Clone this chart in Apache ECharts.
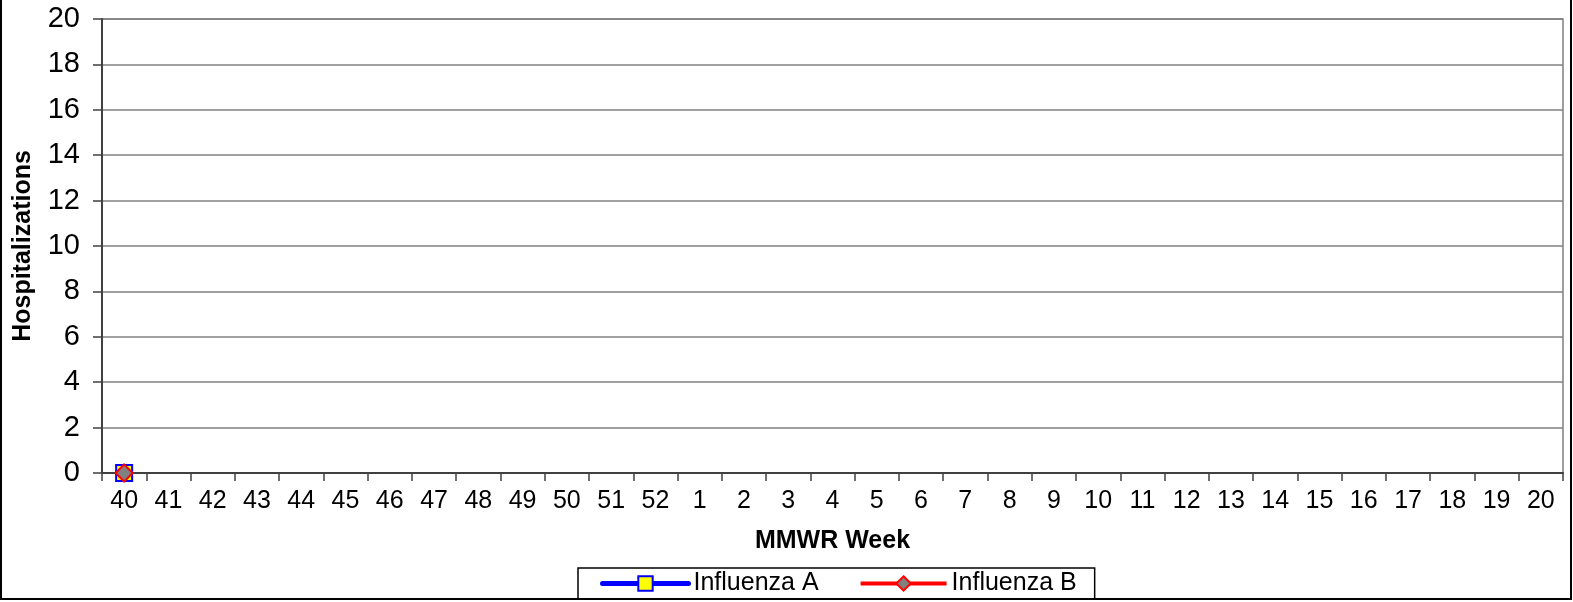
<!DOCTYPE html>
<html>
<head>
<meta charset="utf-8">
<script src="https://cdn.jsdelivr.net/npm/echarts@6/dist/echarts.min.js"></script>
<style>
  html, body { margin: 0; padding: 0; background: #fff; }
  #chart { width: 1573px; height: 602px; }
</style>
</head>
<body>
<div id="chart"></div>
<script>
// MMWR weeks, season 40 -> 20
const weeks = ['40', '41', '42', '43', '44', '45', '46', '47', '48', '49', '50', '51', '52',
  '1', '2', '3', '4', '5', '6', '7', '8', '9', '10', '11', '12', '13', '14', '15', '16', '17', '18', '19', '20'];

// only week 40 reported so far
const influenzaA = [0];
const influenzaB = [0];

const yTicks = { min: 0, max: 20, interval: 2 };

const chart = echarts.init(document.getElementById('chart'));

chart.setOption({
  animation: false,
  textStyle: { fontFamily: 'Liberation Sans, Arial, sans-serif', color: '#000' },
  grid: {
    left: 102, right: 10, top: 19, bottom: 129,
    outerBoundsMode: 'none',
    containLabel: false,
    show: true, borderColor: '#808080', borderWidth: 1.5
  },
  xAxis: {
    type: 'category',
    data: weeks,
    boundaryGap: true,
    name: 'MMWR Week',
    nameLocation: 'middle',
    nameGap: 56,
    nameTextStyle: { fontSize: 25, fontWeight: 'bold', color: '#000' },
    axisLine: { lineStyle: { color: '#404040', width: 2 } },
    axisTick: { show: true, length: 8, lineStyle: { color: '#404040', width: 1.5 } },
    axisLabel: { fontSize: 25, color: '#000', margin: 16, interval: 0 }
  },
  yAxis: {
    type: 'value',
    min: yTicks.min, max: yTicks.max, interval: yTicks.interval,
    name: 'Hospitalizations',
    nameLocation: 'middle',
    nameGap: 66,
    nameTextStyle: { fontSize: 25, fontWeight: 'bold', color: '#000' },
    axisLine: { show: true, lineStyle: { color: '#404040', width: 2 } },
    axisTick: { show: true, length: 9, lineStyle: { color: '#404040', width: 1.5 } },
    axisLabel: { fontSize: 29, color: '#000', margin: 22 },
    splitLine: { lineStyle: { color: '#808080', width: 1.5 } }
  },
  legend: {
    bottom: 3,
    left: 578,
    itemWidth: 86,
    itemHeight: 18,
    itemGap: 40,
    borderColor: '#000',
    borderWidth: 1.5,
    padding: [3, 18, 3, 22],
    textStyle: { fontSize: 25, color: '#000' },
    data: [
      { name: 'Influenza A', lineStyle: { width: 5, color: '#0000ff', cap: 'round' } },
      { name: 'Influenza B', lineStyle: { width: 4, color: '#ff0000' } }
    ]
  },
  series: [
    {
      name: 'Influenza A',
      type: 'line',
      data: influenzaA,
      symbol: 'rect',
      symbolSize: 16,
      lineStyle: { color: '#0000ff', width: 4 },
      itemStyle: { color: '#ffff00', borderColor: '#0000ff', borderWidth: 2 }
    },
    {
      name: 'Influenza B',
      type: 'line',
      data: influenzaB,
      symbol: 'diamond',
      symbolSize: 17,
      lineStyle: { color: '#ff0000', width: 3 },
      itemStyle: { color: '#808080', borderColor: '#ff0000', borderWidth: 2 }
    }
  ],
  graphic: [
    {
      type: 'rect',
      silent: true,
      shape: { x: 1, y: -10, width: 1570, height: 609 },
      style: { fill: null, stroke: '#000', lineWidth: 2 }
    }
  ]
});

window.addEventListener('resize', () => chart.resize());
</script>
</body>
</html>
